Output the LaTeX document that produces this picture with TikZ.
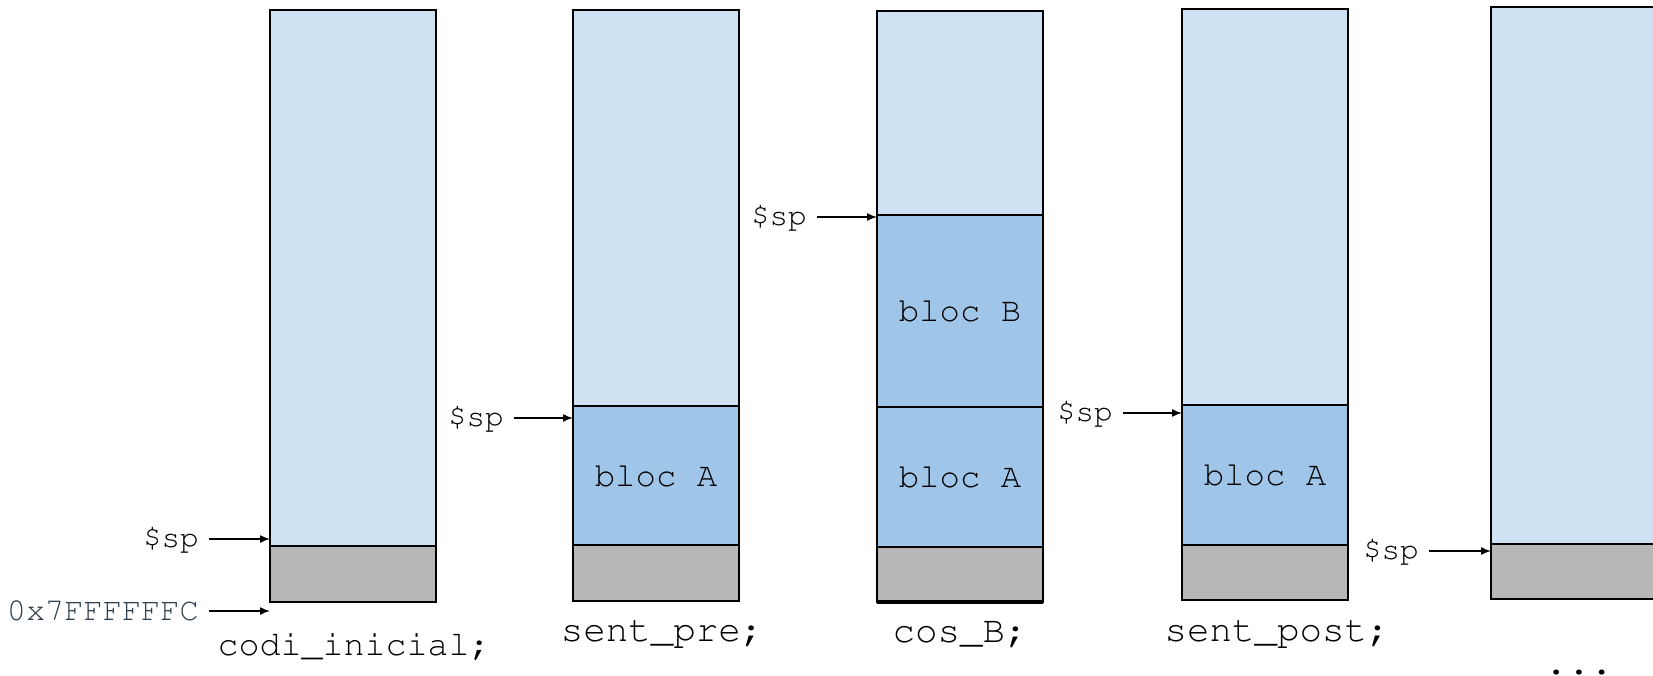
\documentclass[tikz,border=0pt]{standalone}
\usepackage[T1]{fontenc}
\usepackage{courier}
\renewcommand{\familydefault}{\ttdefault}
\usetikzlibrary{arrows.meta,positioning}

\definecolor{freecol}{HTML}{CFE2F3}
\definecolor{blockcol}{HTML}{9FC5E8}
\definecolor{basecol}{HTML}{B7B7B7}
\definecolor{addrcol}{HTML}{2F4050}

\begin{document}
\begin{tikzpicture}[x=1pt, y=-1pt,
  seg/.style={draw, line width=1.5pt, anchor=north west, inner sep=0pt, outer sep=0pt, minimum width=166pt},
  free/.style={seg, fill=freecol},
  blk/.style={seg, fill=blockcol, font=\fontsize{34}{34}\selectfont},
  base/.style={seg, fill=basecol},
  sp/.style={anchor=east, inner sep=0pt, font=\fontsize{31}{31}\selectfont},
  ptr/.style={-{Latex[length=10pt,width=8pt]}, line width=1.5pt, shorten <=10pt},
  stmt/.style={font=\fontsize{37.5}{37.5}\selectfont}]
\clip (0,0) rectangle (1653,676);

% stack before the first call
\node[free, minimum height=536pt] (f1) at (270,10) {};
\node[base, minimum height=56pt] (g1) at (270,546) {};
\node[sp] (sp1) at (199,539) {\$sp};
\draw[ptr] (sp1) -- (sp1 -| f1.west);
\node[sp, text=addrcol, font=\fontsize{32}{32}\selectfont] (addr) at (199,611) {0x7FFFFFFC};
\draw[ptr] (addr) -- (addr -| f1.west);
\node[stmt, font=\fontsize{35}{35}\selectfont] (s1) at (354,647) {codi\_inicial;};

% block A reserved
\node[free, minimum height=396pt] (f2) at (573,10) {};
\node[blk, minimum height=139pt] (a2) at (573,406) {bloc A};
\node[base, minimum height=56pt] (g2) at (573,545) {};
\node[sp] (sp2) at (504,418) {\$sp};
\draw[ptr] (sp2) -- (sp2 -| f2.west);
\node[stmt] (s2) at (662,634) {sent\_pre;};

% block B on top of block A
\begin{scope}[every node/.append style={line width=2pt}]
\node[free, minimum height=204pt] (f3) at (877,11) {};
\node[blk, minimum height=192pt] (b3) at (877,215) {bloc B};
\node[blk, minimum height=140pt] (a3) at (877,407) {bloc A};
\node[base, minimum height=55pt] (g3) at (877,547) {};
\end{scope}
\draw[line width=3.5pt] (g3.south west) -- (g3.south east);
\node[sp] (sp3) at (807,217) {\$sp};
\draw[ptr] (sp3) -- (sp3 -| f3.west);
\node[stmt] (s3) at (960,635) {cos\_B;};

% block B released
\node[free, minimum height=396pt] (f4) at (1182,9) {};
\node[blk, minimum height=140pt] (a4) at (1182,405) {bloc A};
\node[base, minimum height=55pt] (g4) at (1182,545) {};
\node[sp] (sp4) at (1113,413) {\$sp};
\draw[ptr] (sp4) -- (sp4 -| f4.west);
\node[stmt] (s4) at (1277,634) {sent\_post;};

% back to the start
\node[free, minimum height=537pt] (f5) at (1491,7) {};
\node[base, minimum height=55pt] (g5) at (1491,544) {};
\node[sp] (sp5) at (1419,551) {\$sp};
\draw[ptr] (sp5) -- (sp5 -| f5.west);
\node[stmt, anchor=base, inner sep=0pt, font=\fontsize{38}{38}\selectfont\bfseries] (dots) at (1579,674) {...};
\end{tikzpicture}
\end{document}
